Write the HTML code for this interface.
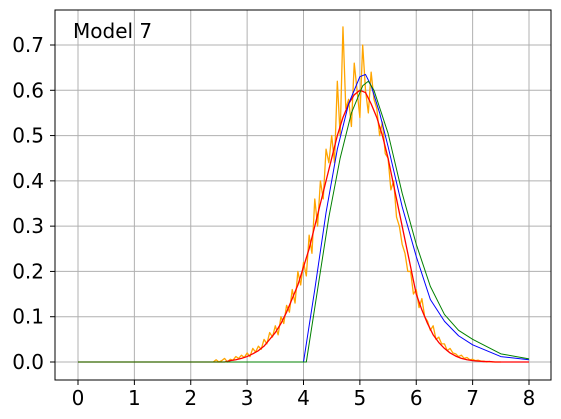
<!DOCTYPE html>
<html><head><meta charset="utf-8"><style>body{margin:0;background:#fff}svg{display:block;font-family:"DejaVu Sans","Liberation Sans",sans-serif}</style></head>
<body>
<svg id="chart" width="561" height="419" viewBox="0 0 561 419" xmlns="http://www.w3.org/2000/svg">
<g id="grid"></g>
<g id="series"></g>
<rect x="55" y="10" width="496" height="370" fill="none" stroke="#000" stroke-width="1"/>
<g id="ticks"></g>
<text x="73" y="38" font-size="20">Model 7</text>
</svg>
<script>
const xTicks=[0,1,2,3,4,5,6,7,8];
const yTicks=[0,0.1,0.2,0.3,0.4,0.5,0.6,0.7];
const yTickLabels=["0.0","0.1","0.2","0.3","0.4","0.5","0.6","0.7"];
const blueX=[0,4,4.2,4.4,4.6,4.8,5.0,5.1,5.2,5.35,5.5,5.75,6.0,6.25,6.5,6.75,7,7.5,8];
const blueY=[0,0,0.16,0.33,0.47,0.57,0.63,0.635,0.61,0.55,0.476,0.343,0.233,0.138,0.09,0.058,0.038,0.012,0.005];
const greenX=[0,4.05,4.25,4.45,4.65,4.85,5.05,5.15,5.25,5.5,5.75,6.0,6.25,6.5,6.75,7,7.5,8];
const greenY=[0,0,0.16,0.32,0.45,0.55,0.61,0.62,0.6,0.505,0.373,0.26,0.167,0.105,0.07,0.05,0.018,0.007];
const redStart=2.6, redStep=0.1;
const redY=[0,.003,.005,.008,.012,.018,.025,.035,.05,.065,.085,.11,.14,.17,.21,.25,.3,.35,.4,.45,.5,.54,.57,.59,.6,.595,.57,.54,.5,.45,.39,.33,.27,.21,.15,.115,.085,.06,.043,.03,.02,.013,.008,.005,.003,.002,.001,.001,0,0,0];
const orangeStart=2.4, orangeStep=0.05;
const orangeY=[0,.005,0,.003,.008,0,.006,.004,.012,.008,.015,.01,
.02,.012,.03,.022,.035,.028,.05,.04,.065,.055,
.08,.06,.1,.085,.125,.11,.16,.13,.2,.17,
.22,.19,.28,.24,.36,.3,.4,.36,.47,.44,
.5,.44,.62,.5,.74,.56,.58,.52,.66,.6,
.54,.7,.6,.55,.64,.58,.56,.5,.53,.46,
.45,.38,.4,.32,.3,.26,.24,.2,.2,.15,
.16,.12,.14,.1,.09,.07,.08,.05,.055,.04,
.04,.025,.03,.02,.018,.012,.015,.008,.01,.005,
.006,.003,.004,.002,.002,0,.001,0,0,0,0];
const NS="http://www.w3.org/2000/svg";
const sx=v=>78+v*(529-78)/8;
const sy=v=>362-v*(362-45)/0.7;
const grid=document.getElementById('grid'),ticks=document.getElementById('ticks'),series=document.getElementById('series');
function mk(tag,attrs,parent){const e=document.createElementNS(NS,tag);for(const k in attrs)e.setAttribute(k,attrs[k]);parent.appendChild(e);return e;}
xTicks.forEach(t=>{
 const l=mk('line',{x1:sx(t),x2:sx(t),y1:10,y2:380,stroke:'#b0b0b0','stroke-width':1},grid);
 
 
 mk('line',{x1:sx(t),x2:sx(t),y1:380,y2:385,stroke:'#000'},ticks);
 const tx=mk('text',{x:sx(t),y:405,'font-size':20,'text-anchor':'middle'},ticks);
 tx.textContent=t;
 
 
});
yTicks.forEach((t,i)=>{
 const l=mk('line',{x1:55,x2:551,y1:sy(t),y2:sy(t),stroke:'#b0b0b0','stroke-width':1},grid);
 
 
 mk('line',{x1:50,x2:55,y1:sy(t),y2:sy(t),stroke:'#000'},ticks);
 const tx=mk('text',{x:44,y:sy(t)+7,'font-size':20,'text-anchor':'end'},ticks);
 tx.textContent=yTickLabels[i];
 
 
});
function line(xs,ys,color,name,w){
 const p=mk('polyline',{points:xs.map((x,i)=>sx(x)+','+sy(ys[i])).join(' '),fill:'none',stroke:color,'stroke-width':w,'stroke-linejoin':'round'},series);
 
 
}
line(orangeY.map((_,i)=>orangeStart+i*orangeStep),orangeY,'orange','orange-series',1.3);
line([0,redStart].concat(redY.map((_,i)=>redStart+i*redStep),[8]),[0,0].concat(redY,[0]),'red','red-series',1.3);
line(blueX,blueY,'blue','blue-series',1);
line(greenX,greenY,'green','green-series',1);
</script>
</body></html>
